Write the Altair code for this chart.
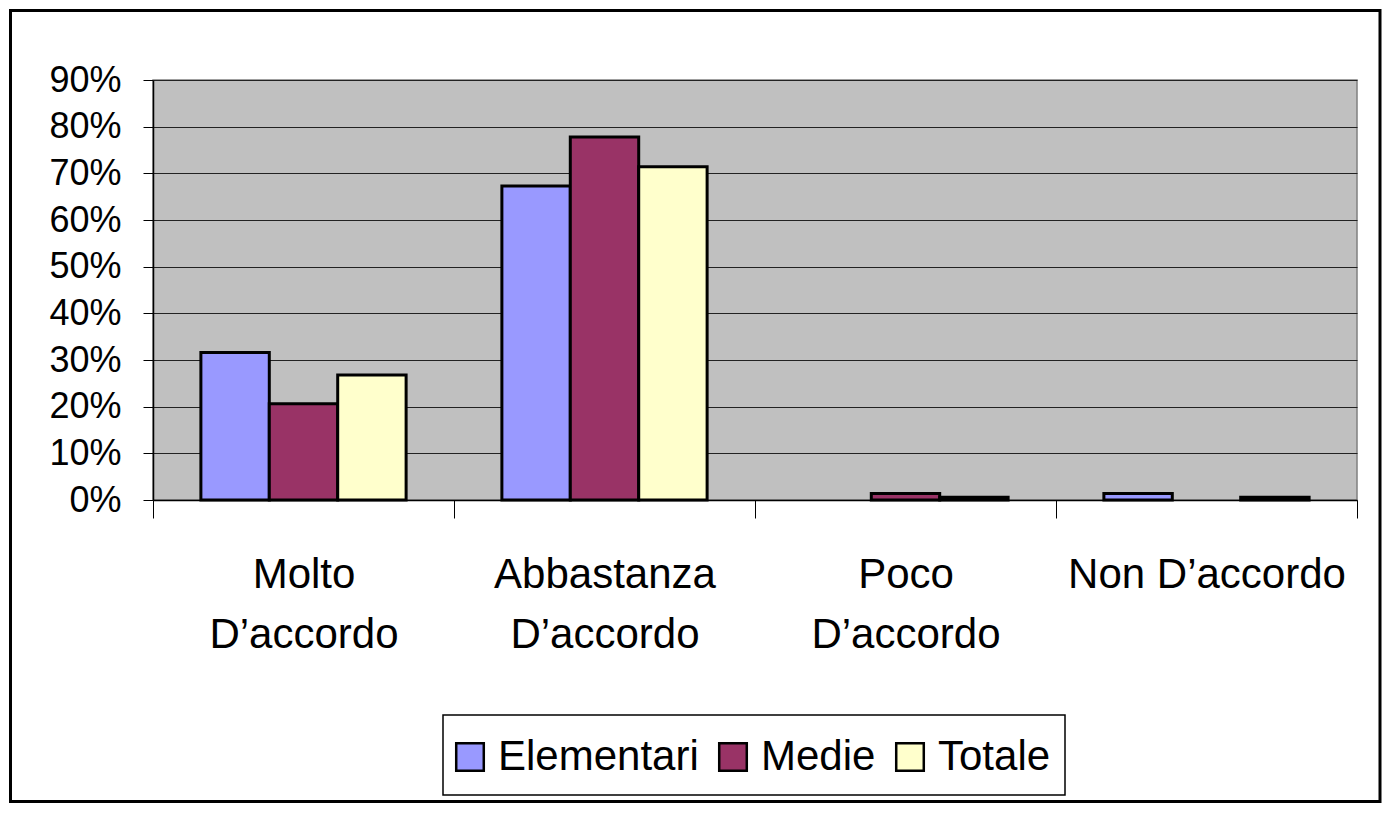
import altair as alt
import pandas as pd

categories = ["Molto D’accordo", "Abbastanza D’accordo", "Poco D’accordo", "Non D’accordo"]
series = ["Elementari", "Medie", "Totale"]
elementari = [31.6, 67.3, 0.0, 1.4]
medie = [20.6, 77.8, 1.4, 0.0]
totale = [26.8, 71.4, 0.6, 0.6]
colors = ["#9999FF", "#993366", "#FFFFCC"]
y_ticks = [0, 0.1, 0.2, 0.3, 0.4, 0.5, 0.6, 0.7, 0.8, 0.9]

rows = []
for s, vals in zip(series, [elementari, medie, totale]):
    for c, v in zip(categories, vals):
        rows.append({"categoria": c, "serie": s, "valore": v / 100})
df = pd.DataFrame(rows)

FONT = "Liberation Sans"
W, H = 1204, 420

label_expr = (
    "datum.value == 'Molto D’accordo' ? ['Molto', 'D’accordo'] : "
    "datum.value == 'Abbastanza D’accordo' ? ['Abbastanza', 'D’accordo'] : "
    "datum.value == 'Poco D’accordo' ? ['Poco', 'D’accordo'] : datum.label"
)

bars = alt.Chart(df).transform_filter("datum.valore > 0").mark_bar(
    stroke="black", strokeWidth=3
).encode(
    x=alt.X("categoria:N", sort=categories, title=None,
            scale=alt.Scale(paddingInner=0, paddingOuter=0),
            axis=alt.Axis(labelAngle=0, labelExpr=label_expr, tickBand="extent",
                          tickSize=18, tickColor="black", domainColor="black",
                          domainWidth=1.5, labelFont=FONT, labelFontSize=42,
                          labelLineHeight=60, labelPadding=36, labelColor="black",
                          labelLimit=400)),
    xOffset=alt.XOffset("serie:N", sort=series,
                        scale=alt.Scale(paddingInner=0, paddingOuter=0.7)),
    y=alt.Y("valore:Q", title=None,
            scale=alt.Scale(domain=[0, 0.9], nice=False),
            axis=alt.Axis(values=y_ticks, format=".0%", tickSize=10,
                          tickColor="black", domainColor="black", domainWidth=1.5,
                          gridColor="#222222", gridWidth=1, labelFont=FONT,
                          labelFontSize=36, labelPadding=22, labelColor="black")),
    color=alt.Color("serie:N", sort=series,
                    scale=alt.Scale(domain=series, range=colors),
                    legend=alt.Legend(title=None, orient="none", legendX=296, legendY=656,
                                      direction="horizontal", columns=3,
                                      symbolType="square", symbolSize=760,
                                      symbolStrokeColor="black", symbolStrokeWidth=2.5,
                                      labelFont=FONT, labelFontSize=42, labelColor="black",
                                      labelOffset=7, columnPadding=13, padding=0,
                                      labelLimit=400)),
)

frame = alt.Chart(alt.Data(values=[{}])).mark_rect(
    fill="transparent", stroke="black", strokeWidth=3
).encode(
    x=alt.value(-142.5), x2=alt.value(1227), y=alt.value(-69.5), y2=alt.value(721.5)
)

legend_box = alt.Chart(alt.Data(values=[{}])).mark_rect(
    fill="white", stroke="black", strokeWidth=1.5
).encode(
    x=alt.value(290), x2=alt.value(912), y=alt.value(635), y2=alt.value(715)
)

chart = alt.layer(frame, legend_box, bars).properties(
    width=W, height=H,
    autosize=alt.AutoSizeParams(type="none"),
    padding={"left": 145, "top": 72, "right": 25, "bottom": 303},
    background="white",
).configure_view(fill="#C0C0C0", stroke="#808080", strokeWidth=1.5)

chart.save("out.html", embed_options={"renderer": "svg", "actions": False})
